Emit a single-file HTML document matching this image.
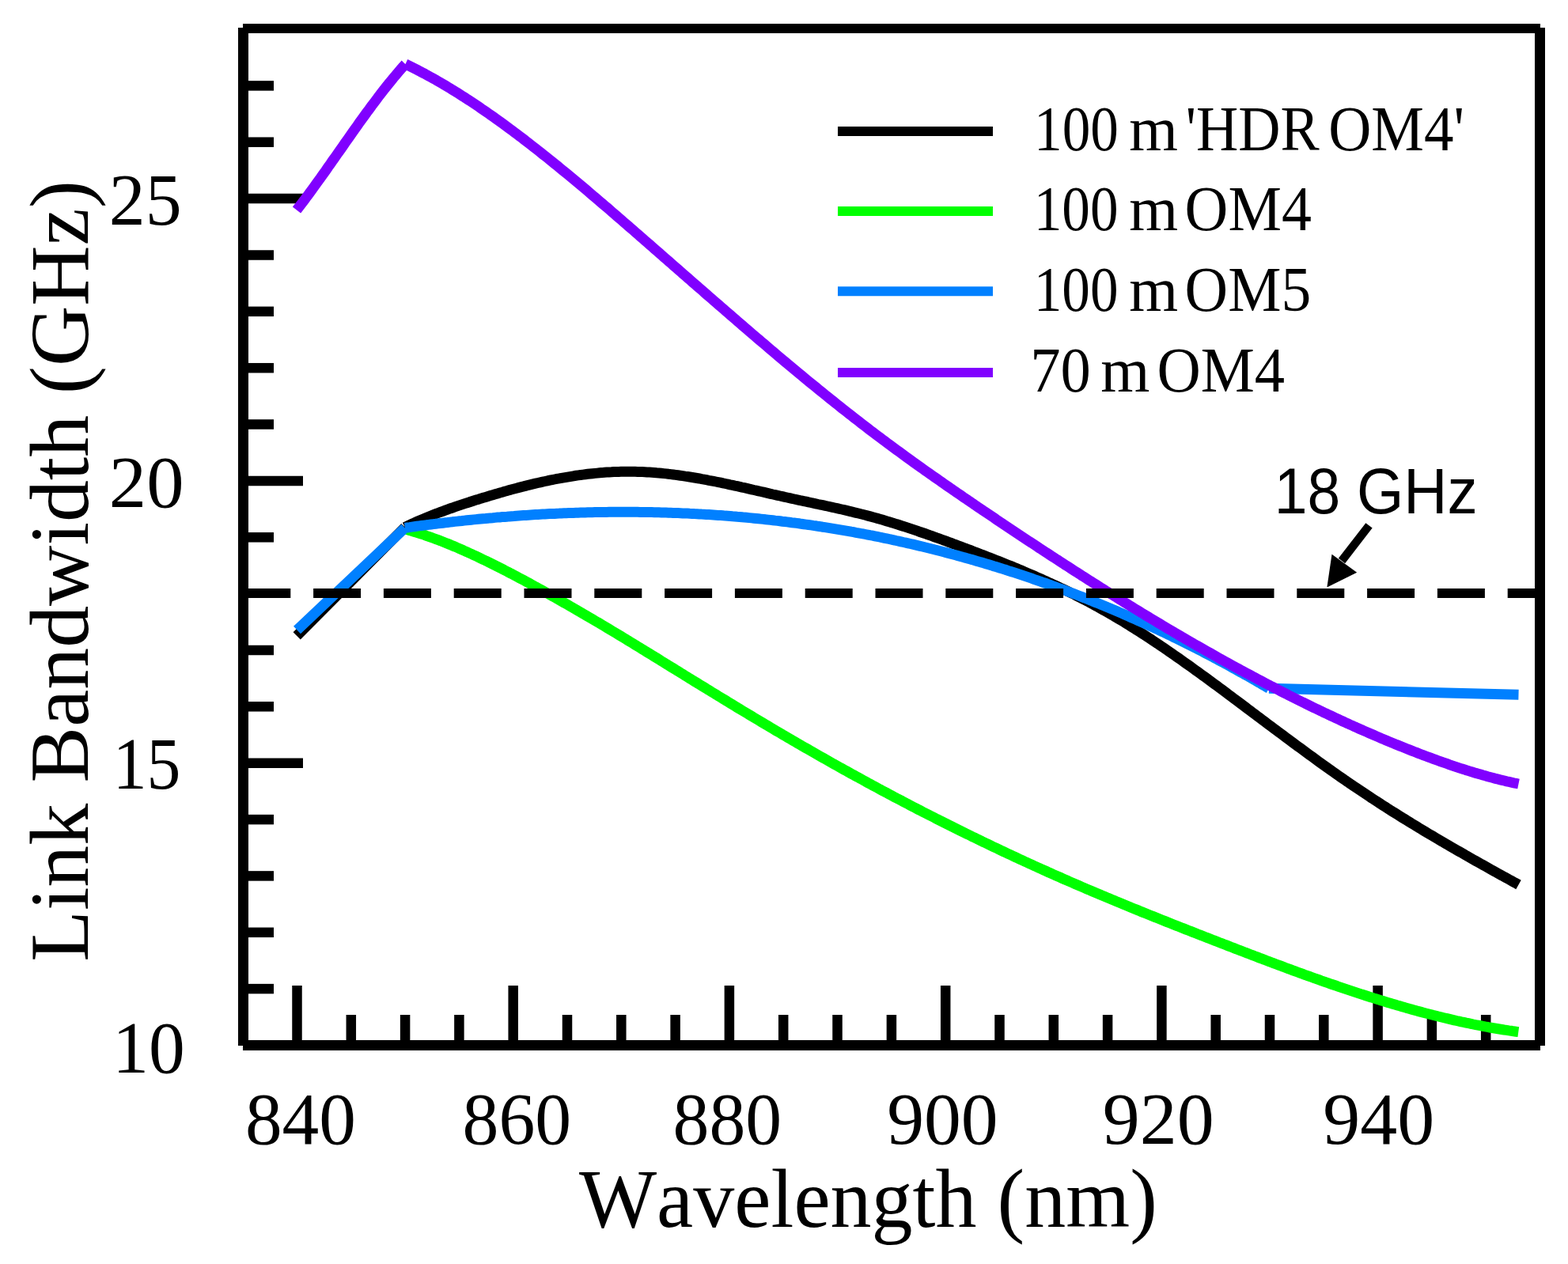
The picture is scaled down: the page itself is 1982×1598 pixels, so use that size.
<!DOCTYPE html>
<html><head><meta charset="utf-8"><title>Link Bandwidth vs Wavelength</title>
<style>
html,body{margin:0;padding:0;background:#fff;}
svg{display:block;}
text{font-family:"Liberation Serif","Times New Roman",serif;fill:#000;}
.sans{font-family:"Liberation Sans",Arial,sans-serif;}
</style></head>
<body>
<svg width="1982" height="1598" viewBox="0 0 1982 1598">
<rect width="1982" height="1598" fill="#fff"/>
<g stroke="#000" stroke-width="12.5">
<line x1="314" y1="1250.1" x2="346" y2="1250.1"/>
<line x1="314" y1="1178.8" x2="346" y2="1178.8"/>
<line x1="314" y1="1107.4" x2="346" y2="1107.4"/>
<line x1="314" y1="1036.1" x2="346" y2="1036.1"/>
<line x1="314" y1="964.7" x2="383" y2="964.7"/>
<line x1="314" y1="893.3" x2="346" y2="893.3"/>
<line x1="314" y1="822.0" x2="346" y2="822.0"/>
<line x1="314" y1="679.3" x2="346" y2="679.3"/>
<line x1="314" y1="607.9" x2="383" y2="607.9"/>
<line x1="314" y1="536.5" x2="346" y2="536.5"/>
<line x1="314" y1="465.2" x2="346" y2="465.2"/>
<line x1="314" y1="393.8" x2="346" y2="393.8"/>
<line x1="314" y1="322.5" x2="346" y2="322.5"/>
<line x1="314" y1="251.1" x2="383" y2="251.1"/>
<line x1="314" y1="179.7" x2="346" y2="179.7"/>
<line x1="314" y1="108.4" x2="346" y2="108.4"/>
<line x1="375.5" y1="1315" x2="375.5" y2="1246"/>
<line x1="443.8" y1="1315" x2="443.8" y2="1283"/>
<line x1="512.1" y1="1315" x2="512.1" y2="1283"/>
<line x1="580.4" y1="1315" x2="580.4" y2="1283"/>
<line x1="648.7" y1="1315" x2="648.7" y2="1246"/>
<line x1="717.0" y1="1315" x2="717.0" y2="1283"/>
<line x1="785.3" y1="1315" x2="785.3" y2="1283"/>
<line x1="853.6" y1="1315" x2="853.6" y2="1283"/>
<line x1="921.9" y1="1315" x2="921.9" y2="1246"/>
<line x1="990.2" y1="1315" x2="990.2" y2="1283"/>
<line x1="1058.5" y1="1315" x2="1058.5" y2="1283"/>
<line x1="1126.9" y1="1315" x2="1126.9" y2="1283"/>
<line x1="1195.2" y1="1315" x2="1195.2" y2="1246"/>
<line x1="1263.5" y1="1315" x2="1263.5" y2="1283"/>
<line x1="1331.8" y1="1315" x2="1331.8" y2="1283"/>
<line x1="1400.1" y1="1315" x2="1400.1" y2="1283"/>
<line x1="1468.4" y1="1315" x2="1468.4" y2="1246"/>
<line x1="1536.7" y1="1315" x2="1536.7" y2="1283"/>
<line x1="1605.0" y1="1315" x2="1605.0" y2="1283"/>
<line x1="1673.3" y1="1315" x2="1673.3" y2="1283"/>
<line x1="1741.6" y1="1315" x2="1741.6" y2="1246"/>
<line x1="1809.9" y1="1315" x2="1809.9" y2="1283"/>
<line x1="1878.2" y1="1315" x2="1878.2" y2="1283"/>
</g>
<g stroke="#000">
<line x1="307" y1="36" x2="1947" y2="36" stroke-width="12"/>
<line x1="307.5" y1="35" x2="307.5" y2="1322" stroke-width="13"/>
<line x1="1946.5" y1="35" x2="1946.5" y2="1322" stroke-width="13"/>
<line x1="307" y1="1321.5" x2="1947" y2="1321.5" stroke-width="13"/>
</g>
<g fill="none" stroke-width="13" stroke-linecap="butt" stroke-linejoin="miter">
<path stroke="#000" d="M375.2,803.9 L511.8,666.5 M511.8,666.5 L514.8,665.0 L517.8,663.6 L520.8,662.2 L523.8,660.9 L526.8,659.5 L529.8,658.2 L532.8,656.9 L535.8,655.7 L538.8,654.4 L541.8,653.2 L544.8,652.0 L547.8,650.8 L550.8,649.6 L553.8,648.5 L556.8,647.4 L559.8,646.3 L562.8,645.2 L565.8,644.1 L568.8,643.0 L571.8,642.0 L574.8,640.9 L577.8,639.9 L580.8,638.9 L583.8,637.9 L586.8,636.9 L589.8,635.9 L592.8,635.0 L595.8,634.0 L598.8,633.0 L601.8,632.1 L604.8,631.2 L607.8,630.2 L610.8,629.3 L613.9,628.4 L616.9,627.5 L619.9,626.6 L622.9,625.7 L625.9,624.8 L628.9,623.9 L631.9,623.0 L634.9,622.2 L637.9,621.3 L640.9,620.5 L643.9,619.6 L646.9,618.8 L649.9,618.0 L652.9,617.2 L655.9,616.4 L658.9,615.6 L661.9,614.9 L664.9,614.1 L667.9,613.3 L670.9,612.6 L673.9,611.9 L676.9,611.2 L679.9,610.5 L682.9,609.8 L685.9,609.1 L688.9,608.5 L691.9,607.9 L694.9,607.2 L697.9,606.6 L700.9,606.0 L703.9,605.4 L706.9,604.9 L709.9,604.3 L712.9,603.8 L715.9,603.3 L718.9,602.8 L721.9,602.3 L724.9,601.8 L727.9,601.3 L730.9,600.9 L733.9,600.5 L736.9,600.1 L739.9,599.7 L742.9,599.3 L745.9,599.0 L748.9,598.7 L751.9,598.4 L754.9,598.1 L757.9,597.8 L760.9,597.6 L763.9,597.3 L766.9,597.1 L769.9,596.9 L772.9,596.8 L775.9,596.6 L778.9,596.5 L781.9,596.4 L784.9,596.3 L787.9,596.2 L790.9,596.2 L793.9,596.2 L796.9,596.2 L799.9,596.2 L802.9,596.3 L805.9,596.4 L808.9,596.5 L811.9,596.6 L815.0,596.7 L818.0,596.9 L821.0,597.1 L824.0,597.3 L827.0,597.5 L830.0,597.8 L833.0,598.0 L836.0,598.3 L839.0,598.6 L842.0,598.9 L845.0,599.3 L848.0,599.6 L851.0,600.0 L854.0,600.4 L857.0,600.8 L860.0,601.2 L863.0,601.6 L866.0,602.1 L869.0,602.5 L872.0,603.0 L875.0,603.5 L878.0,604.0 L881.0,604.5 L884.0,605.0 L887.0,605.6 L890.0,606.1 L893.0,606.7 L896.0,607.3 L899.0,607.8 L902.0,608.4 L905.0,609.0 L908.0,609.6 L911.0,610.2 L914.0,610.9 L917.0,611.5 L920.0,612.1 L923.0,612.8 L926.0,613.4 L929.0,614.1 L932.0,614.7 L935.0,615.4 L938.0,616.1 L941.0,616.7 L944.0,617.4 L947.0,618.1 L950.0,618.8 L953.0,619.5 L956.0,620.1 L959.0,620.8 L962.0,621.5 L965.0,622.2 L968.0,622.9 L971.0,623.6 L974.0,624.3 L977.0,625.0 L980.0,625.6 L983.0,626.3 L986.0,627.0 L989.0,627.7 L992.0,628.4 L995.0,629.0 L998.0,629.7 L1001.0,630.4 L1004.0,631.0 L1007.0,631.7 L1010.0,632.3 L1013.0,633.0 L1016.1,633.6 L1019.1,634.2 L1022.1,634.9 L1025.1,635.5 L1028.1,636.2 L1031.1,636.8 L1034.1,637.5 L1037.1,638.1 L1040.1,638.7 L1043.1,639.4 L1046.1,640.0 L1049.1,640.7 L1052.1,641.3 L1055.1,642.0 L1058.1,642.7 L1061.1,643.4 L1064.1,644.0 L1067.1,644.7 L1070.1,645.4 L1073.1,646.1 L1076.1,646.8 L1079.1,647.6 L1082.1,648.3 L1085.1,649.0 L1088.1,649.8 L1091.1,650.5 L1094.1,651.3 L1097.1,652.1 L1100.1,652.9 L1103.1,653.7 L1106.1,654.6 L1109.1,655.4 L1112.1,656.2 L1115.1,657.1 L1118.1,658.0 L1121.1,658.9 L1124.1,659.8 L1127.1,660.7 L1130.1,661.6 L1133.1,662.6 L1136.1,663.5 L1139.1,664.5 L1142.1,665.4 L1145.1,666.4 L1148.1,667.4 L1151.1,668.4 L1154.1,669.4 L1157.1,670.4 L1160.1,671.4 L1163.1,672.5 L1166.1,673.5 L1169.1,674.5 L1172.1,675.6 L1175.1,676.7 L1178.1,677.7 L1181.1,678.8 L1184.1,679.9 L1187.1,680.9 L1190.1,682.0 L1193.1,683.1 L1196.1,684.2 L1199.1,685.3 L1202.1,686.4 L1205.1,687.6 L1208.1,688.7 L1211.1,689.8 L1214.1,690.9 L1217.2,692.0 L1220.2,693.2 L1223.2,694.3 L1226.2,695.4 L1229.2,696.6 L1232.2,697.7 L1235.2,698.9 L1238.2,700.0 L1241.2,701.2 L1244.2,702.3 L1247.2,703.5 L1250.2,704.7 L1253.2,705.8 L1256.2,707.0 L1259.2,708.2 L1262.2,709.4 L1265.2,710.6 L1268.2,711.8 L1271.2,713.0 L1274.2,714.2 L1277.2,715.4 L1280.2,716.6 L1283.2,717.9 L1286.2,719.1 L1289.2,720.4 L1292.2,721.6 L1295.2,722.9 L1298.2,724.2 L1301.2,725.4 L1304.2,726.7 L1307.2,728.0 L1310.2,729.4 L1313.2,730.7 L1316.2,732.0 L1319.2,733.4 L1322.2,734.7 L1325.2,736.1 L1328.2,737.4 L1331.2,738.8 L1334.2,740.2 L1337.2,741.6 L1340.2,743.1 L1343.2,744.5 L1346.2,745.9 L1349.2,747.4 L1352.2,748.9 L1355.2,750.3 L1358.2,751.8 L1361.2,753.4 L1364.2,754.9 L1367.2,756.4 L1370.2,758.0 L1373.2,759.5 L1376.2,761.1 L1379.2,762.7 L1382.2,764.3 L1385.2,766.0 L1388.2,767.6 L1391.2,769.3 L1394.2,771.0 L1397.2,772.7 L1400.2,774.4 L1403.2,776.1 L1406.2,777.8 L1409.2,779.6 L1412.2,781.4 L1415.2,783.2 L1418.3,785.0 L1421.3,786.8 L1424.3,788.7 L1427.3,790.5 L1430.3,792.4 L1433.3,794.3 L1436.3,796.2 L1439.3,798.1 L1442.3,800.0 L1445.3,801.9 L1448.3,803.9 L1451.3,805.9 L1454.3,807.8 L1457.3,809.8 L1460.3,811.8 L1463.3,813.8 L1466.3,815.9 L1469.3,817.9 L1472.3,819.9 L1475.3,822.0 L1478.3,824.1 L1481.3,826.1 L1484.3,828.2 L1487.3,830.3 L1490.3,832.4 L1493.3,834.5 L1496.3,836.7 L1499.3,838.8 L1502.3,840.9 L1505.3,843.1 L1508.3,845.2 L1511.3,847.4 L1514.3,849.6 L1517.3,851.7 L1520.3,853.9 L1523.3,856.1 L1526.3,858.3 L1529.3,860.5 L1532.3,862.7 L1535.3,864.9 L1538.3,867.1 L1541.3,869.4 L1544.3,871.6 L1547.3,873.8 L1550.3,876.0 L1553.3,878.3 L1556.3,880.5 L1559.3,882.8 L1562.3,885.0 L1565.3,887.2 L1568.3,889.5 L1571.3,891.7 L1574.3,894.0 L1577.3,896.3 L1580.3,898.5 L1583.3,900.8 L1586.3,903.0 L1589.3,905.3 L1592.3,907.5 L1595.3,909.8 L1598.3,912.0 L1601.3,914.3 L1604.3,916.6 L1607.3,918.8 L1610.3,921.1 L1613.3,923.3 L1616.3,925.6 L1619.4,927.8 L1622.4,930.0 L1625.4,932.3 L1628.4,934.5 L1631.4,936.7 L1634.4,939.0 L1637.4,941.2 L1640.4,943.4 L1643.4,945.6 L1646.4,947.8 L1649.4,950.0 L1652.4,952.2 L1655.4,954.4 L1658.4,956.6 L1661.4,958.8 L1664.4,961.0 L1667.4,963.2 L1670.4,965.3 L1673.4,967.5 L1676.4,969.6 L1679.4,971.8 L1682.4,973.9 L1685.4,976.0 L1688.4,978.1 L1691.4,980.2 L1694.4,982.3 L1697.4,984.4 L1700.4,986.5 L1703.4,988.5 L1706.4,990.6 L1709.4,992.6 L1712.4,994.7 L1715.4,996.7 L1718.4,998.7 L1721.4,1000.7 L1724.4,1002.7 L1727.4,1004.7 L1730.4,1006.7 L1733.4,1008.7 L1736.4,1010.6 L1739.4,1012.6 L1742.4,1014.5 L1745.4,1016.5 L1748.4,1018.4 L1751.4,1020.3 L1754.4,1022.3 L1757.4,1024.2 L1760.4,1026.1 L1763.4,1027.9 L1766.4,1029.8 L1769.4,1031.7 L1772.4,1033.6 L1775.4,1035.4 L1778.4,1037.3 L1781.4,1039.1 L1784.4,1041.0 L1787.4,1042.8 L1790.4,1044.6 L1793.4,1046.5 L1796.4,1048.3 L1799.4,1050.1 L1802.4,1051.9 L1805.4,1053.7 L1808.4,1055.5 L1811.4,1057.2 L1814.4,1059.0 L1817.4,1060.8 L1820.5,1062.6 L1823.5,1064.3 L1826.5,1066.1 L1829.5,1067.8 L1832.5,1069.6 L1835.5,1071.3 L1838.5,1073.0 L1841.5,1074.8 L1844.5,1076.5 L1847.5,1078.2 L1850.5,1079.9 L1853.5,1081.7 L1856.5,1083.4 L1859.5,1085.1 L1862.5,1086.8 L1865.5,1088.5 L1868.5,1090.2 L1871.5,1091.9 L1874.5,1093.5 L1877.5,1095.2 L1880.5,1096.9 L1883.5,1098.6 L1886.5,1100.3 L1889.5,1101.9 L1892.5,1103.6 L1895.5,1105.3 L1898.5,1106.9 L1901.5,1108.6 L1904.5,1110.2 L1907.5,1111.9 L1910.5,1113.5 L1913.5,1115.2 L1916.5,1116.8 L1919.5,1118.5"/>
<path stroke="#00ff00" d="M512.0,669.0 L515.0,669.8 L518.0,670.6 L521.0,671.5 L524.0,672.4 L527.0,673.3 L530.0,674.3 L533.0,675.2 L536.0,676.2 L539.0,677.3 L542.0,678.3 L545.0,679.4 L548.0,680.5 L551.0,681.6 L554.0,682.7 L557.0,683.8 L560.0,685.0 L563.0,686.2 L566.0,687.4 L569.0,688.6 L572.0,689.9 L575.0,691.1 L578.0,692.4 L581.0,693.7 L584.0,695.0 L587.0,696.4 L590.0,697.7 L593.0,699.1 L596.0,700.4 L599.0,701.8 L602.0,703.2 L605.0,704.6 L608.0,706.1 L611.0,707.5 L614.0,709.0 L617.0,710.4 L620.0,711.9 L623.0,713.4 L626.0,714.9 L629.0,716.4 L632.0,717.9 L635.0,719.4 L638.0,721.0 L641.0,722.5 L644.0,724.1 L647.0,725.6 L650.0,727.2 L653.0,728.8 L656.0,730.4 L659.0,732.0 L662.0,733.6 L665.0,735.2 L668.0,736.8 L671.0,738.5 L674.0,740.1 L677.0,741.8 L680.0,743.4 L683.0,745.1 L686.0,746.7 L689.0,748.4 L692.0,750.1 L695.0,751.8 L698.0,753.5 L701.0,755.2 L704.0,756.9 L707.0,758.6 L710.0,760.3 L713.0,762.0 L716.0,763.7 L719.0,765.4 L722.0,767.2 L725.0,768.9 L728.0,770.6 L731.0,772.4 L734.0,774.1 L737.0,775.9 L740.0,777.6 L743.0,779.4 L746.0,781.1 L749.1,782.9 L752.1,784.7 L755.1,786.5 L758.1,788.2 L761.1,790.0 L764.1,791.8 L767.1,793.6 L770.1,795.4 L773.1,797.2 L776.1,799.0 L779.1,800.8 L782.1,802.6 L785.1,804.4 L788.1,806.2 L791.1,808.0 L794.1,809.9 L797.1,811.7 L800.1,813.5 L803.1,815.4 L806.1,817.2 L809.1,819.0 L812.1,820.9 L815.1,822.7 L818.1,824.6 L821.1,826.4 L824.1,828.2 L827.1,830.1 L830.1,831.9 L833.1,833.8 L836.1,835.7 L839.1,837.5 L842.1,839.4 L845.1,841.2 L848.1,843.1 L851.1,844.9 L854.1,846.8 L857.1,848.6 L860.1,850.5 L863.1,852.3 L866.1,854.2 L869.1,856.0 L872.1,857.9 L875.1,859.7 L878.1,861.6 L881.1,863.4 L884.1,865.3 L887.1,867.1 L890.1,868.9 L893.1,870.8 L896.1,872.6 L899.1,874.5 L902.1,876.3 L905.1,878.1 L908.1,880.0 L911.1,881.8 L914.1,883.6 L917.1,885.4 L920.1,887.3 L923.1,889.1 L926.1,890.9 L929.1,892.7 L932.1,894.6 L935.1,896.4 L938.1,898.2 L941.1,900.0 L944.1,901.8 L947.1,903.6 L950.1,905.4 L953.1,907.2 L956.1,909.0 L959.1,910.8 L962.1,912.6 L965.1,914.4 L968.1,916.2 L971.1,917.9 L974.1,919.7 L977.1,921.5 L980.1,923.3 L983.1,925.0 L986.1,926.8 L989.1,928.6 L992.1,930.3 L995.1,932.1 L998.1,933.8 L1001.1,935.6 L1004.1,937.3 L1007.1,939.1 L1010.1,940.8 L1013.1,942.6 L1016.1,944.3 L1019.1,946.0 L1022.1,947.7 L1025.1,949.5 L1028.1,951.2 L1031.1,952.9 L1034.1,954.6 L1037.1,956.3 L1040.1,958.0 L1043.1,959.7 L1046.1,961.4 L1049.1,963.1 L1052.1,964.8 L1055.1,966.5 L1058.1,968.1 L1061.1,969.8 L1064.1,971.5 L1067.1,973.2 L1070.1,974.8 L1073.1,976.5 L1076.1,978.2 L1079.1,979.8 L1082.1,981.5 L1085.1,983.1 L1088.1,984.7 L1091.1,986.4 L1094.1,988.0 L1097.1,989.7 L1100.1,991.3 L1103.1,992.9 L1106.1,994.5 L1109.1,996.1 L1112.1,997.8 L1115.1,999.4 L1118.1,1001.0 L1121.1,1002.6 L1124.1,1004.2 L1127.1,1005.8 L1130.1,1007.4 L1133.1,1009.0 L1136.1,1010.5 L1139.1,1012.1 L1142.1,1013.7 L1145.1,1015.3 L1148.1,1016.8 L1151.1,1018.4 L1154.1,1020.0 L1157.1,1021.5 L1160.1,1023.1 L1163.1,1024.6 L1166.1,1026.2 L1169.1,1027.7 L1172.1,1029.2 L1175.1,1030.8 L1178.1,1032.3 L1181.1,1033.8 L1184.1,1035.4 L1187.1,1036.9 L1190.1,1038.4 L1193.1,1039.9 L1196.1,1041.4 L1199.1,1042.9 L1202.1,1044.4 L1205.1,1045.9 L1208.1,1047.4 L1211.1,1048.9 L1214.1,1050.4 L1217.2,1051.9 L1220.2,1053.4 L1223.2,1054.8 L1226.2,1056.3 L1229.2,1057.8 L1232.2,1059.2 L1235.2,1060.7 L1238.2,1062.1 L1241.2,1063.6 L1244.2,1065.0 L1247.2,1066.5 L1250.2,1067.9 L1253.2,1069.4 L1256.2,1070.8 L1259.2,1072.2 L1262.2,1073.6 L1265.2,1075.1 L1268.2,1076.5 L1271.2,1077.9 L1274.2,1079.3 L1277.2,1080.7 L1280.2,1082.1 L1283.2,1083.5 L1286.2,1084.9 L1289.2,1086.3 L1292.2,1087.7 L1295.2,1089.1 L1298.2,1090.4 L1301.2,1091.8 L1304.2,1093.2 L1307.2,1094.6 L1310.2,1095.9 L1313.2,1097.3 L1316.2,1098.6 L1319.2,1100.0 L1322.2,1101.3 L1325.2,1102.7 L1328.2,1104.0 L1331.2,1105.4 L1334.2,1106.7 L1337.2,1108.0 L1340.2,1109.3 L1343.2,1110.7 L1346.2,1112.0 L1349.2,1113.3 L1352.2,1114.6 L1355.2,1115.9 L1358.2,1117.2 L1361.2,1118.5 L1364.2,1119.8 L1367.2,1121.1 L1370.2,1122.4 L1373.2,1123.7 L1376.2,1124.9 L1379.2,1126.2 L1382.2,1127.5 L1385.2,1128.8 L1388.2,1130.0 L1391.2,1131.3 L1394.2,1132.6 L1397.2,1133.8 L1400.2,1135.1 L1403.2,1136.3 L1406.2,1137.6 L1409.2,1138.8 L1412.2,1140.1 L1415.2,1141.3 L1418.2,1142.5 L1421.2,1143.8 L1424.2,1145.0 L1427.2,1146.2 L1430.2,1147.5 L1433.2,1148.7 L1436.2,1149.9 L1439.2,1151.1 L1442.2,1152.4 L1445.2,1153.6 L1448.2,1154.8 L1451.2,1156.0 L1454.2,1157.2 L1457.2,1158.4 L1460.2,1159.6 L1463.2,1160.8 L1466.2,1162.0 L1469.2,1163.2 L1472.2,1164.4 L1475.2,1165.6 L1478.2,1166.8 L1481.2,1168.0 L1484.2,1169.2 L1487.2,1170.4 L1490.2,1171.5 L1493.2,1172.7 L1496.2,1173.9 L1499.2,1175.1 L1502.2,1176.3 L1505.2,1177.4 L1508.2,1178.6 L1511.2,1179.8 L1514.2,1181.0 L1517.2,1182.1 L1520.2,1183.3 L1523.2,1184.5 L1526.2,1185.6 L1529.2,1186.8 L1532.2,1188.0 L1535.2,1189.1 L1538.2,1190.3 L1541.2,1191.5 L1544.2,1192.6 L1547.2,1193.8 L1550.2,1194.9 L1553.2,1196.1 L1556.2,1197.3 L1559.2,1198.4 L1562.2,1199.6 L1565.2,1200.7 L1568.2,1201.9 L1571.2,1203.0 L1574.2,1204.2 L1577.2,1205.3 L1580.2,1206.5 L1583.2,1207.6 L1586.2,1208.8 L1589.2,1209.9 L1592.2,1211.1 L1595.2,1212.2 L1598.2,1213.3 L1601.2,1214.5 L1604.2,1215.6 L1607.2,1216.7 L1610.2,1217.9 L1613.2,1219.0 L1616.2,1220.1 L1619.2,1221.2 L1622.2,1222.3 L1625.2,1223.5 L1628.2,1224.6 L1631.2,1225.7 L1634.2,1226.8 L1637.2,1227.9 L1640.2,1229.0 L1643.2,1230.1 L1646.2,1231.2 L1649.2,1232.3 L1652.2,1233.3 L1655.2,1234.4 L1658.2,1235.5 L1661.2,1236.6 L1664.2,1237.6 L1667.2,1238.7 L1670.2,1239.8 L1673.2,1240.8 L1676.2,1241.9 L1679.2,1242.9 L1682.2,1244.0 L1685.3,1245.0 L1688.3,1246.0 L1691.3,1247.1 L1694.3,1248.1 L1697.3,1249.1 L1700.3,1250.1 L1703.3,1251.1 L1706.3,1252.1 L1709.3,1253.1 L1712.3,1254.1 L1715.3,1255.1 L1718.3,1256.1 L1721.3,1257.1 L1724.3,1258.0 L1727.3,1259.0 L1730.3,1260.0 L1733.3,1260.9 L1736.3,1261.9 L1739.3,1262.8 L1742.3,1263.7 L1745.3,1264.7 L1748.3,1265.6 L1751.3,1266.5 L1754.3,1267.4 L1757.3,1268.3 L1760.3,1269.2 L1763.3,1270.1 L1766.3,1271.0 L1769.3,1271.8 L1772.3,1272.7 L1775.3,1273.6 L1778.3,1274.4 L1781.3,1275.3 L1784.3,1276.1 L1787.3,1276.9 L1790.3,1277.8 L1793.3,1278.6 L1796.3,1279.4 L1799.3,1280.2 L1802.3,1281.0 L1805.3,1281.7 L1808.3,1282.5 L1811.3,1283.3 L1814.3,1284.0 L1817.3,1284.8 L1820.3,1285.5 L1823.3,1286.3 L1826.3,1287.0 L1829.3,1287.7 L1832.3,1288.4 L1835.3,1289.1 L1838.3,1289.8 L1841.3,1290.5 L1844.3,1291.1 L1847.3,1291.8 L1850.3,1292.4 L1853.3,1293.1 L1856.3,1293.7 L1859.3,1294.3 L1862.3,1295.0 L1865.3,1295.6 L1868.3,1296.1 L1871.3,1296.7 L1874.3,1297.3 L1877.3,1297.9 L1880.3,1298.4 L1883.3,1299.0 L1886.3,1299.5 L1889.3,1300.0 L1892.3,1300.5 L1895.3,1301.0 L1898.3,1301.5 L1901.3,1302.0 L1904.3,1302.4 L1907.3,1302.9 L1910.3,1303.3 L1913.3,1303.8 L1916.3,1304.2 L1919.3,1304.6"/>
<path stroke="#0080ff" d="M375.5,796.5 L511.8,667.4 M511.8,667.4 L514.8,667.0 L517.8,666.6 L520.8,666.1 L523.8,665.7 L526.8,665.3 L529.8,664.9 L532.8,664.5 L535.8,664.1 L538.8,663.8 L541.8,663.4 L544.8,663.0 L547.8,662.6 L550.8,662.3 L553.8,661.9 L556.8,661.5 L559.8,661.2 L562.8,660.8 L565.8,660.5 L568.8,660.1 L571.8,659.8 L574.8,659.4 L577.8,659.1 L580.8,658.8 L583.8,658.5 L586.8,658.1 L589.8,657.8 L592.8,657.5 L595.8,657.2 L598.8,656.9 L601.8,656.6 L604.8,656.3 L607.8,656.0 L610.8,655.7 L613.8,655.5 L616.8,655.2 L619.8,654.9 L622.8,654.7 L625.8,654.4 L628.8,654.1 L631.8,653.9 L634.8,653.6 L637.8,653.4 L640.8,653.2 L643.8,652.9 L646.8,652.7 L649.8,652.5 L652.8,652.2 L655.8,652.0 L658.8,651.8 L661.8,651.6 L664.8,651.4 L667.8,651.2 L670.8,651.0 L673.8,650.8 L676.8,650.6 L679.8,650.5 L682.8,650.3 L685.8,650.1 L688.8,650.0 L691.8,649.8 L694.8,649.6 L697.8,649.5 L700.8,649.4 L703.8,649.2 L706.8,649.1 L709.8,648.9 L712.8,648.8 L715.8,648.7 L718.8,648.6 L721.8,648.5 L724.8,648.4 L727.8,648.3 L730.8,648.2 L733.8,648.1 L736.8,648.0 L739.8,647.9 L742.8,647.8 L745.8,647.7 L748.8,647.7 L751.8,647.6 L754.8,647.6 L757.8,647.5 L760.8,647.5 L763.8,647.4 L766.8,647.4 L769.8,647.3 L772.8,647.3 L775.8,647.3 L778.8,647.3 L781.8,647.3 L784.9,647.3 L787.9,647.3 L790.9,647.3 L793.9,647.3 L796.9,647.3 L799.9,647.3 L802.9,647.3 L805.9,647.3 L808.9,647.4 L811.9,647.4 L814.9,647.5 L817.9,647.5 L820.9,647.6 L823.9,647.6 L826.9,647.7 L829.9,647.7 L832.9,647.8 L835.9,647.9 L838.9,648.0 L841.9,648.1 L844.9,648.2 L847.9,648.3 L850.9,648.4 L853.9,648.5 L856.9,648.6 L859.9,648.7 L862.9,648.9 L865.9,649.0 L868.9,649.1 L871.9,649.3 L874.9,649.4 L877.9,649.6 L880.9,649.7 L883.9,649.9 L886.9,650.1 L889.9,650.2 L892.9,650.4 L895.9,650.6 L898.9,650.8 L901.9,651.0 L904.9,651.2 L907.9,651.4 L910.9,651.6 L913.9,651.8 L916.9,652.1 L919.9,652.3 L922.9,652.5 L925.9,652.8 L928.9,653.0 L931.9,653.3 L934.9,653.5 L937.9,653.8 L940.9,654.1 L943.9,654.3 L946.9,654.6 L949.9,654.9 L952.9,655.2 L955.9,655.5 L958.9,655.8 L961.9,656.1 L964.9,656.4 L967.9,656.8 L970.9,657.1 L973.9,657.4 L976.9,657.7 L979.9,658.1 L982.9,658.4 L985.9,658.8 L988.9,659.2 L991.9,659.5 L994.9,659.9 L997.9,660.3 L1000.9,660.7 L1003.9,661.0 L1006.9,661.4 L1009.9,661.8 L1012.9,662.3 L1015.9,662.7 L1018.9,663.1 L1021.9,663.5 L1024.9,663.9 L1027.9,664.4 L1030.9,664.8 L1033.9,665.3 L1036.9,665.7 L1039.9,666.2 L1042.9,666.6 L1045.9,667.1 L1048.9,667.6 L1051.9,668.1 L1054.9,668.6 L1057.9,669.1 L1060.9,669.6 L1063.9,670.1 L1066.9,670.6 L1069.9,671.1 L1072.9,671.6 L1075.9,672.2 L1078.9,672.7 L1081.9,673.3 L1084.9,673.8 L1087.9,674.4 L1090.9,674.9 L1093.9,675.5 L1096.9,676.1 L1099.9,676.7 L1102.9,677.2 L1105.9,677.8 L1108.9,678.4 L1111.9,679.0 L1114.9,679.7 L1117.9,680.3 L1120.9,680.9 L1123.9,681.5 L1126.9,682.2 L1129.9,682.8 L1132.9,683.5 L1135.9,684.1 L1138.9,684.8 L1141.9,685.5 L1144.9,686.1 L1147.9,686.8 L1150.9,687.5 L1153.9,688.2 L1156.9,688.9 L1159.9,689.6 L1162.9,690.3 L1165.9,691.0 L1168.9,691.8 L1171.9,692.5 L1174.9,693.2 L1177.9,694.0 L1180.9,694.7 L1183.9,695.5 L1186.9,696.3 L1189.9,697.0 L1192.9,697.8 L1195.9,698.6 L1198.9,699.4 L1201.9,700.2 L1204.9,701.0 L1207.9,701.8 L1210.9,702.6 L1213.9,703.4 L1216.9,704.3 L1219.9,705.1 L1222.9,705.9 L1225.9,706.8 L1228.9,707.6 L1231.9,708.5 L1234.9,709.4 L1237.9,710.3 L1240.9,711.1 L1243.9,712.0 L1246.9,712.9 L1249.9,713.8 L1252.9,714.7 L1255.9,715.7 L1258.9,716.6 L1261.9,717.5 L1264.9,718.4 L1267.9,719.4 L1270.9,720.3 L1273.9,721.3 L1276.9,722.3 L1279.9,723.2 L1282.9,724.2 L1285.9,725.2 L1288.9,726.2 L1291.9,727.2 L1294.9,728.2 L1297.9,729.2 L1300.9,730.2 L1303.9,731.2 L1306.9,732.3 L1309.9,733.3 L1312.9,734.4 L1315.9,735.4 L1318.9,736.5 L1321.9,737.5 L1324.9,738.6 L1327.9,739.7 L1331.0,740.8 L1334.0,741.9 L1337.0,743.0 L1340.0,744.1 L1343.0,745.2 L1346.0,746.3 L1349.0,747.5 L1352.0,748.6 L1355.0,749.7 L1358.0,750.9 L1361.0,752.0 L1364.0,753.2 L1367.0,754.4 L1370.0,755.6 L1373.0,756.7 L1376.0,757.9 L1379.0,759.1 L1382.0,760.4 L1385.0,761.6 L1388.0,762.8 L1391.0,764.0 L1394.0,765.3 L1397.0,766.5 L1400.0,767.8 L1403.0,769.0 L1406.0,770.3 L1409.0,771.5 L1412.0,772.8 L1415.0,774.1 L1418.0,775.4 L1421.0,776.7 L1424.0,778.0 L1427.0,779.3 L1430.0,780.7 L1433.0,782.0 L1436.0,783.3 L1439.0,784.7 L1442.0,786.0 L1445.0,787.4 L1448.0,788.8 L1451.0,790.1 L1454.0,791.5 L1457.0,792.9 L1460.0,794.3 L1463.0,795.7 L1466.0,797.1 L1469.0,798.5 L1472.0,800.0 L1475.0,801.4 L1478.0,802.8 L1481.0,804.3 L1484.0,805.8 L1487.0,807.2 L1490.0,808.7 L1493.0,810.2 L1496.0,811.7 L1499.0,813.2 L1502.0,814.7 L1505.0,816.2 L1508.0,817.7 L1511.0,819.2 L1514.0,820.7 L1517.0,822.3 L1520.0,823.8 L1523.0,825.4 L1526.0,827.0 L1529.0,828.5 L1532.0,830.1 L1535.0,831.7 L1538.0,833.3 L1541.0,834.9 L1544.0,836.5 L1547.0,838.1 L1550.0,839.7 L1553.0,841.4 L1556.0,843.0 L1559.0,844.7 L1562.0,846.3 L1565.0,848.0 L1568.0,849.7 L1571.0,851.3 L1574.0,853.0 L1577.0,854.7 L1580.0,856.4 L1583.0,858.1 L1586.0,859.8 L1589.0,861.6 L1592.0,863.3 L1595.0,865.1 L1598.0,866.8 L1601.0,868.6 L1604.0,870.3 M1604.0,870.3 L1919.5,878.2"/>
<path stroke="#8000ff" d="M375.0,265.6 L378.1,261.6 L381.1,257.6 L384.2,253.6 L387.2,249.5 L390.3,245.4 L393.3,241.2 L396.4,237.0 L399.4,232.8 L402.5,228.5 L405.6,224.3 L408.6,220.0 L411.7,215.7 L414.7,211.3 L417.8,207.0 L420.8,202.6 L423.9,198.3 L426.9,193.9 L430.0,189.6 L433.1,185.2 L436.1,180.8 L439.2,176.5 L442.2,172.2 L445.3,167.8 L448.3,163.5 L451.4,159.2 L454.4,154.9 L457.5,150.7 L460.6,146.4 L463.6,142.2 L466.7,138.1 L469.7,133.9 L472.8,129.8 L475.8,125.8 L478.9,121.7 L481.9,117.8 L485.0,113.8 L488.1,109.9 L491.1,106.1 L494.2,102.3 L497.2,98.6 L500.3,95.0 L503.3,91.4 L506.4,87.8 L509.4,84.4 L512.5,81.0 M512.5,81.0 L515.5,82.4 L518.5,83.9 L521.5,85.4 L524.5,86.9 L527.5,88.4 L530.5,90.0 L533.5,91.6 L536.5,93.1 L539.5,94.8 L542.5,96.4 L545.5,98.1 L548.5,99.7 L551.5,101.4 L554.5,103.2 L557.5,104.9 L560.5,106.6 L563.5,108.4 L566.5,110.2 L569.5,112.0 L572.5,113.9 L575.5,115.7 L578.5,117.6 L581.5,119.5 L584.5,121.4 L587.5,123.3 L590.5,125.3 L593.5,127.2 L596.5,129.2 L599.5,131.2 L602.5,133.2 L605.5,135.2 L608.5,137.3 L611.5,139.3 L614.5,141.4 L617.5,143.5 L620.5,145.6 L623.5,147.7 L626.5,149.8 L629.5,152.0 L632.5,154.1 L635.5,156.3 L638.5,158.5 L641.5,160.7 L644.5,162.9 L647.5,165.2 L650.5,167.4 L653.5,169.7 L656.5,171.9 L659.5,174.2 L662.5,176.5 L665.5,178.8 L668.5,181.1 L671.5,183.5 L674.5,185.8 L677.5,188.1 L680.5,190.5 L683.5,192.9 L686.5,195.3 L689.5,197.6 L692.5,200.0 L695.5,202.5 L698.5,204.9 L701.5,207.3 L704.5,209.7 L707.5,212.2 L710.5,214.7 L713.5,217.1 L716.5,219.6 L719.5,222.1 L722.5,224.6 L725.5,227.1 L728.5,229.6 L731.5,232.1 L734.5,234.6 L737.5,237.1 L740.5,239.6 L743.5,242.2 L746.5,244.7 L749.5,247.3 L752.5,249.8 L755.5,252.4 L758.5,254.9 L761.5,257.5 L764.5,260.1 L767.5,262.6 L770.5,265.2 L773.5,267.8 L776.5,270.4 L779.5,273.0 L782.5,275.6 L785.5,278.2 L788.5,280.8 L791.5,283.4 L794.5,286.0 L797.5,288.6 L800.5,291.2 L803.5,293.8 L806.5,296.4 L809.5,299.1 L812.5,301.7 L815.5,304.3 L818.5,306.9 L821.5,309.5 L824.5,312.1 L827.5,314.8 L830.5,317.4 L833.5,320.0 L836.5,322.6 L839.5,325.3 L842.5,327.9 L845.5,330.5 L848.5,333.1 L851.5,335.8 L854.5,338.4 L857.5,341.0 L860.5,343.6 L863.5,346.3 L866.5,348.9 L869.5,351.5 L872.5,354.1 L875.5,356.8 L878.5,359.4 L881.5,362.0 L884.5,364.6 L887.5,367.2 L890.5,369.9 L893.5,372.5 L896.5,375.1 L899.5,377.7 L902.5,380.3 L905.5,382.9 L908.5,385.5 L911.5,388.1 L914.5,390.7 L917.5,393.3 L920.5,395.9 L923.5,398.5 L926.5,401.1 L929.5,403.7 L932.5,406.3 L935.5,408.9 L938.5,411.5 L941.5,414.1 L944.5,416.7 L947.5,419.2 L950.5,421.8 L953.5,424.4 L956.5,426.9 L959.5,429.5 L962.5,432.1 L965.5,434.6 L968.5,437.2 L971.5,439.7 L974.5,442.3 L977.5,444.8 L980.5,447.4 L983.5,449.9 L986.5,452.4 L989.5,454.9 L992.5,457.5 L995.5,460.0 L998.5,462.5 L1001.5,465.0 L1004.5,467.5 L1007.5,470.0 L1010.5,472.5 L1013.5,474.9 L1016.5,477.4 L1019.5,479.9 L1022.5,482.4 L1025.5,484.8 L1028.5,487.3 L1031.5,489.7 L1034.5,492.2 L1037.5,494.6 L1040.5,497.1 L1043.5,499.5 L1046.5,501.9 L1049.5,504.3 L1052.5,506.7 L1055.5,509.1 L1058.5,511.5 L1061.5,513.9 L1064.5,516.3 L1067.5,518.6 L1070.5,521.0 L1073.5,523.4 L1076.5,525.7 L1079.5,528.1 L1082.5,530.4 L1085.5,532.7 L1088.5,535.1 L1091.5,537.4 L1094.5,539.7 L1097.5,542.0 L1100.5,544.3 L1103.5,546.5 L1106.5,548.8 L1109.5,551.1 L1112.5,553.3 L1115.5,555.6 L1118.5,557.8 L1121.5,560.1 L1124.5,562.3 L1127.5,564.5 L1130.5,566.7 L1133.5,568.9 L1136.5,571.1 L1139.5,573.3 L1142.5,575.5 L1145.5,577.7 L1148.5,579.8 L1151.5,582.0 L1154.5,584.2 L1157.5,586.3 L1160.5,588.5 L1163.5,590.6 L1166.5,592.7 L1169.5,594.9 L1172.5,597.0 L1175.5,599.1 L1178.5,601.2 L1181.5,603.3 L1184.5,605.4 L1187.5,607.5 L1190.5,609.6 L1193.5,611.7 L1196.5,613.8 L1199.5,615.9 L1202.5,618.0 L1205.5,620.0 L1208.5,622.1 L1211.5,624.2 L1214.5,626.2 L1217.5,628.3 L1220.5,630.3 L1223.5,632.4 L1226.5,634.4 L1229.5,636.5 L1232.5,638.5 L1235.5,640.6 L1238.5,642.6 L1241.5,644.6 L1244.5,646.7 L1247.5,648.7 L1250.5,650.7 L1253.5,652.7 L1256.5,654.7 L1259.5,656.8 L1262.5,658.8 L1265.5,660.8 L1268.5,662.8 L1271.5,664.8 L1274.5,666.8 L1277.5,668.8 L1280.5,670.8 L1283.5,672.8 L1286.5,674.8 L1289.5,676.8 L1292.5,678.8 L1295.5,680.8 L1298.5,682.8 L1301.5,684.8 L1304.5,686.7 L1307.5,688.7 L1310.5,690.7 L1313.5,692.7 L1316.5,694.6 L1319.5,696.6 L1322.5,698.6 L1325.5,700.5 L1328.5,702.5 L1331.5,704.4 L1334.5,706.4 L1337.5,708.3 L1340.5,710.3 L1343.5,712.2 L1346.5,714.2 L1349.5,716.1 L1352.5,718.0 L1355.5,720.0 L1358.5,721.9 L1361.5,723.8 L1364.5,725.7 L1367.5,727.7 L1370.5,729.6 L1373.5,731.5 L1376.5,733.4 L1379.5,735.3 L1382.5,737.2 L1385.5,739.1 L1388.5,741.0 L1391.5,742.9 L1394.5,744.8 L1397.5,746.7 L1400.5,748.5 L1403.5,750.4 L1406.5,752.3 L1409.5,754.1 L1412.5,756.0 L1415.5,757.9 L1418.5,759.7 L1421.5,761.6 L1424.5,763.4 L1427.5,765.3 L1430.5,767.1 L1433.5,769.0 L1436.5,770.8 L1439.5,772.6 L1442.5,774.5 L1445.5,776.3 L1448.5,778.1 L1451.5,779.9 L1454.5,781.7 L1457.5,783.5 L1460.5,785.3 L1463.5,787.1 L1466.5,788.9 L1469.5,790.7 L1472.5,792.5 L1475.5,794.3 L1478.5,796.0 L1481.5,797.8 L1484.5,799.6 L1487.5,801.3 L1490.5,803.1 L1493.5,804.9 L1496.5,806.6 L1499.5,808.4 L1502.5,810.1 L1505.5,811.8 L1508.5,813.6 L1511.5,815.3 L1514.5,817.0 L1517.5,818.7 L1520.5,820.4 L1523.5,822.1 L1526.5,823.8 L1529.5,825.5 L1532.5,827.2 L1535.5,828.9 L1538.5,830.6 L1541.5,832.3 L1544.5,834.0 L1547.5,835.6 L1550.5,837.3 L1553.5,838.9 L1556.5,840.6 L1559.5,842.3 L1562.5,843.9 L1565.5,845.5 L1568.5,847.2 L1571.5,848.8 L1574.5,850.4 L1577.5,852.0 L1580.5,853.6 L1583.5,855.2 L1586.5,856.8 L1589.5,858.4 L1592.5,860.0 L1595.5,861.6 L1598.5,863.2 L1601.5,864.8 L1604.5,866.3 L1607.5,867.9 L1610.5,869.4 L1613.5,871.0 L1616.5,872.5 L1619.5,874.1 L1622.5,875.6 L1625.5,877.1 L1628.5,878.7 L1631.5,880.2 L1634.5,881.7 L1637.5,883.2 L1640.5,884.7 L1643.5,886.2 L1646.5,887.7 L1649.5,889.1 L1652.5,890.6 L1655.5,892.1 L1658.5,893.6 L1661.5,895.0 L1664.5,896.5 L1667.5,897.9 L1670.5,899.3 L1673.5,900.8 L1676.5,902.2 L1679.5,903.6 L1682.5,905.0 L1685.5,906.4 L1688.5,907.8 L1691.5,909.2 L1694.5,910.6 L1697.5,912.0 L1700.5,913.4 L1703.5,914.7 L1706.5,916.1 L1709.5,917.4 L1712.5,918.8 L1715.5,920.1 L1718.5,921.5 L1721.5,922.8 L1724.5,924.1 L1727.5,925.4 L1730.5,926.7 L1733.5,928.0 L1736.5,929.3 L1739.5,930.6 L1742.5,931.9 L1745.5,933.2 L1748.5,934.4 L1751.5,935.7 L1754.5,937.0 L1757.5,938.2 L1760.5,939.4 L1763.5,940.7 L1766.5,941.9 L1769.5,943.1 L1772.5,944.3 L1775.5,945.5 L1778.5,946.7 L1781.5,947.9 L1784.5,949.1 L1787.5,950.3 L1790.5,951.4 L1793.5,952.6 L1796.5,953.7 L1799.5,954.9 L1802.5,956.0 L1805.5,957.1 L1808.5,958.2 L1811.5,959.3 L1814.5,960.4 L1817.5,961.5 L1820.5,962.6 L1823.5,963.7 L1826.5,964.7 L1829.5,965.7 L1832.5,966.8 L1835.5,967.8 L1838.5,968.8 L1841.5,969.8 L1844.5,970.8 L1847.5,971.8 L1850.5,972.7 L1853.5,973.7 L1856.5,974.6 L1859.5,975.6 L1862.5,976.5 L1865.5,977.4 L1868.5,978.2 L1871.5,979.1 L1874.5,980.0 L1877.5,980.8 L1880.5,981.7 L1883.5,982.5 L1886.5,983.3 L1889.5,984.1 L1892.5,984.8 L1895.5,985.6 L1898.5,986.3 L1901.5,987.0 L1904.5,987.8 L1907.5,988.4 L1910.5,989.1 L1913.5,989.8 L1916.5,990.4 L1919.5,991.0"/>
</g>
<line x1="307.3" y1="750" x2="1940" y2="750" stroke="#000" stroke-width="12" stroke-dasharray="60 28.8"/>
<g stroke-width="12" fill="none">
<line x1="1059" y1="166" x2="1255" y2="166" stroke="#000"/>
<line x1="1059" y1="267" x2="1255" y2="267" stroke="#00ff00"/>
<line x1="1059" y1="368.3" x2="1255" y2="368.3" stroke="#0080ff"/>
<line x1="1059" y1="471" x2="1255" y2="471" stroke="#8000ff"/>
</g>
<text font-size="81" transform="translate(1307.05,189.60) scale(0.8796,1)">100</text>
<text font-size="81" transform="translate(1427.34,189.60) scale(0.9783,1)">m</text>
<text font-size="81" transform="translate(1498.71,189.60) scale(0.9099,1)">'HDR</text>
<text font-size="81" transform="translate(1679.15,189.60) scale(0.9257,1)">OM4'</text>
<text font-size="81" transform="translate(1306.65,291.40) scale(0.8796,1)">100</text>
<text font-size="81" transform="translate(1427.33,291.40) scale(0.9833,1)">m</text>
<text font-size="81" transform="translate(1497.61,291.40) scale(0.9375,1)">OM4</text>
<text font-size="81" transform="translate(1306.65,392.80) scale(0.8796,1)">100</text>
<text font-size="81" transform="translate(1427.33,392.80) scale(0.9833,1)">m</text>
<text font-size="81" transform="translate(1497.62,392.80) scale(0.9331,1)">OM5</text>
<text font-size="81" transform="translate(1302.29,495.30) scale(0.9449,1)">70</text>
<text font-size="81" transform="translate(1391.32,495.30) scale(0.9867,1)">m</text>
<text font-size="81" transform="translate(1462.48,495.30) scale(0.9453,1)">OM4</text>
<text font-size="93" transform="translate(137.75,283.80) scale(0.9871,1)">25</text>
<text font-size="93" transform="translate(137.83,640.90) scale(1.0176,1)">20</text>
<text font-size="93" transform="translate(142.65,997.40) scale(0.9212,1)">15</text>
<text font-size="93" transform="translate(142.13,1355.90) scale(0.9840,1)">10</text>
<text font-size="93" transform="translate(309.89,1446.00) scale(1.0038,1)">840</text>
<text font-size="93" transform="translate(584.54,1446.00) scale(0.9872,1)">860</text>
<text font-size="93" transform="translate(850.55,1446.00) scale(0.9864,1)">880</text>
<text font-size="93" transform="translate(1121.18,1446.00) scale(1.0075,1)">900</text>
<text font-size="93" transform="translate(1393.67,1446.00) scale(1.0105,1)">920</text>
<text font-size="93" transform="translate(1672.17,1446.00) scale(1.0105,1)">940</text>
<text font-size="105" style="font-kerning:none" transform="translate(731.9,1550.7) scale(0.9910,1)">Wavelength (nm)</text>
<text class="sans" font-size="82" transform="translate(1610.82,648.80) scale(0.9165,1)">18</text>
<text class="sans" font-size="82" transform="translate(1714.88,648.80) scale(0.9313,1)">GHz</text>
<text font-size="106.5" transform="translate(110.8,1215.78) rotate(-90) scale(0.9941,1)">Link Bandwidth (GHz)</text>
<g fill="#000" stroke="#000">
<line x1="1730.5" y1="664.4" x2="1696" y2="709" stroke-width="10.5"/>
<polygon points="1677.4,742.6 1683.5,700.8 1715.2,723.8" stroke="none"/>
</g>
</svg>
</body></html>
